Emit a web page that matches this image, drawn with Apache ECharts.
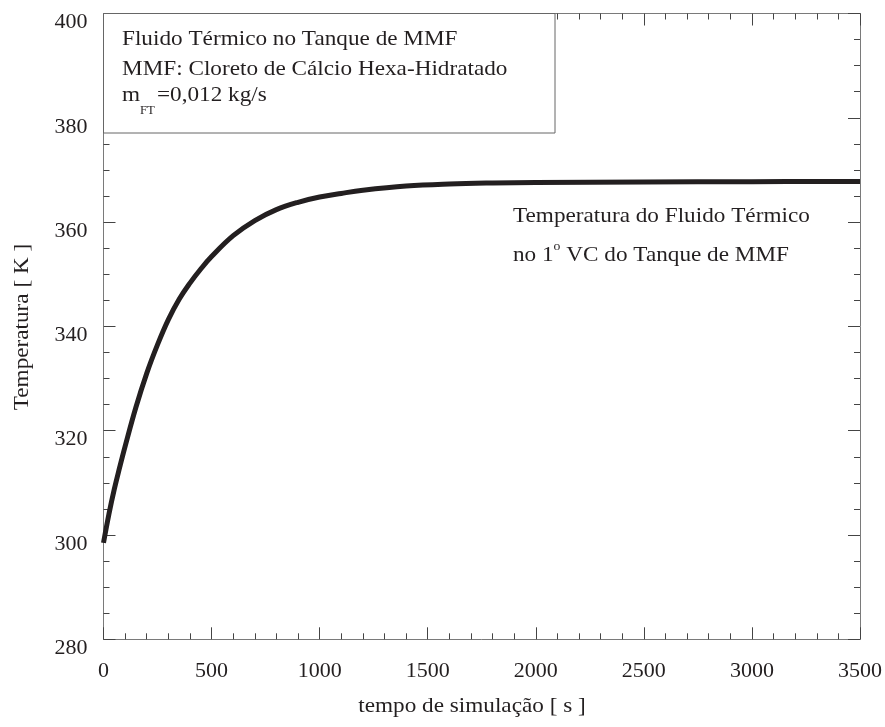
<!DOCTYPE html>
<html>
<head>
<meta charset="utf-8">
<script src="https://cdn.jsdelivr.net/npm/echarts@6/dist/echarts.min.js"></script>
<style>
html,body{margin:0;padding:0;background:#fff;}
#c{width:885px;height:727px;}
</style>
</head>
<body>
<div id="c"></div>
<script>
var times = [0, 25, 50, 75, 100, 150, 200, 250, 300, 350, 400, 450, 500, 600, 700, 800, 900, 1000, 1100, 1200, 1400, 1600, 1800, 2000, 2500, 3000, 3500];
var temps = [298.5, 304, 308.8, 313, 317, 324.5, 331, 336.5, 341.3, 345.2, 348.3, 351, 353.4, 357.4, 360.3, 362.4, 363.8, 364.8, 365.5, 366.1, 366.9, 367.3, 367.5, 367.6, 367.7, 367.75, 367.8];
var xTicks = {min: 0, max: 3500, interval: 500};
var yTicks = {min: 280, max: 400, interval: 20};
var xName = 'tempo de simulação [ s ]';
var yName = 'Temperatura [ K ]';
var boxLines = ['Fluido Térmico no Tanque de MMF', 'MMF: Cloreto de Cálcio Hexa-Hidratado'];
var flowText = {sym: 'm', sub: 'FT', rest: '=0,012 kg/s'};
var curveLabel = {line1: 'Temperatura do Fluido Térmico', l2a: 'no 1', sup: 'o', l2b: ' VC do Tanque de MMF'};

var points = times.map(function (t, i) { return [t, temps[i]]; });

var FONT = 'Liberation Serif';
var TXT = '#231f20';
var FRAME = '#7a7a7a';
var TICK = '#444';
var SX = 1.055;

function plain(v) { return String(v); }

function mkX(pos, showLabel) {
  return {
    type: 'value', position: pos, min: xTicks.min, max: xTicks.max, interval: xTicks.interval,
    axisLine: {show: true, onZero: false, lineStyle: {color: FRAME, width: 1}},
    axisTick: {show: true, inside: true, length: 12, lineStyle: {color: TICK}},
    minorTick: {show: true, splitNumber: 5, length: 6, lineStyle: {color: TICK}},
    splitLine: {show: false},
    axisLabel: {show: showLabel, margin: 21, fontFamily: FONT, fontSize: 22, color: TXT, formatter: plain}
  };
}
function mkY(pos, showLabel) {
  return {
    type: 'value', position: pos, min: yTicks.min, max: yTicks.max, interval: yTicks.interval,
    axisLine: {show: true, onZero: false, lineStyle: {color: FRAME, width: 1}},
    axisTick: {show: true, inside: true, length: 12, lineStyle: {color: TICK}},
    minorTick: {show: true, splitNumber: 4, length: 6, lineStyle: {color: TICK}},
    splitLine: {show: false},
    axisLabel: {show: showLabel, margin: 16, fontFamily: FONT, fontSize: 22, color: TXT,
      verticalAlign: 'top', lineHeight: 18, formatter: plain}
  };
}

function txt(x, y, s, size, extra) {
  var o = {type: 'text', z: 101, x: x, y: y, scaleX: SX,
    style: {text: s, font: size + 'px "' + FONT + '"', fill: TXT, verticalAlign: 'middle'}};
  if (extra) { for (var k in extra) { o[k] = extra[k]; } }
  return o;
}

var chart = echarts.init(document.getElementById('c'), null, {renderer: 'canvas'});
chart.setOption({
  animation: false,
  backgroundColor: '#fff',
  grid: {left: 103.5, right: 25, top: 13.5, bottom: 87.7, containLabel: false},
  xAxis: [mkX('bottom', true), mkX('top', false)],
  yAxis: [mkY('left', true), mkY('right', false)],
  series: [{
    type: 'line', data: points, smooth: 0.4, symbol: 'none', clip: true,
    lineStyle: {color: '#231f20', width: 5}, z: 3
  }],
  graphic: [
    {type: 'rect', z: 100, shape: {x: 103.5, y: 13.5, width: 451.5, height: 119.5},
     style: {fill: '#fff', stroke: '#666', lineWidth: 1}},
    txt(122, 39, boxLines[0], 22),
    txt(122, 69, boxLines[1], 22),
    txt(122, 95, flowText.sym, 22),
    txt(140, 111, flowText.sub, 12),
    txt(157, 95, flowText.rest, 22),
    txt(513, 216, curveLabel.line1, 22, {z: 50}),
    {type: 'text', z: 50, x: 513, y: 255, scaleX: SX, style: {
      text: '{a|' + curveLabel.l2a + '}{s|' + curveLabel.sup + '}{a|' + curveLabel.l2b + '}',
      rich: {
        a: {font: '22px "' + FONT + '"', fill: TXT, lineHeight: 30, verticalAlign: 'middle'},
        s: {font: '13px "' + FONT + '"', fill: TXT, lineHeight: 30, verticalAlign: 'top'}
      },
      verticalAlign: 'middle'}},
    {type: 'text', z: 50, x: 472, y: 706, scaleX: SX, style: {text: xName, font: '22px "' + FONT + '"', fill: TXT, align: 'center', verticalAlign: 'middle'}},
    {type: 'text', z: 50, x: 22, y: 327, scaleX: SX, rotation: Math.PI / 2, style: {text: yName, font: '22px "' + FONT + '"', fill: TXT, align: 'center', verticalAlign: 'middle'}}
  ]
});
</script>
</body>
</html>
